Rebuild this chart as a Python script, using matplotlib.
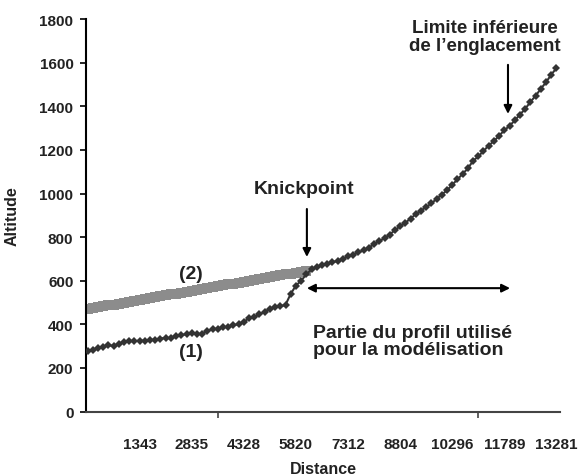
import matplotlib.pyplot as plt

plt.rcParams['font.family'] = ['Liberation Sans', 'DejaVu Sans']
plt.rcParams['font.weight'] = 'bold'

# profil (1): altitude a chaque point du profil
altitude_profil = [
    280, 283, 290, 298, 305, 300, 312, 318, 325, 322,
    326, 324, 330, 328, 335, 338, 336, 345, 350, 356,
    362, 354, 358, 370, 378, 380, 386, 390, 395, 402,
    412, 428, 432, 446, 458, 472, 478, 482, 490, 540,
    578, 600, 630, 652, 664, 670, 678, 684, 692, 700,
    712, 720, 730, 740, 752, 768, 782, 795, 812, 832,
    850, 866, 885, 905, 922, 938, 955, 975, 995, 1015,
    1040, 1065, 1090, 1115, 1150, 1170, 1195, 1220, 1240, 1265,
    1290, 1310, 1335, 1362, 1388, 1420, 1448, 1480, 1510, 1545,
    1575,
]

# profil (2): profil reconstitue jusqu'au knickpoint
altitude_reconst = [
    470, 474, 478, 483, 487, 491, 495, 499, 503, 508,
    512, 516, 520, 524, 528, 533, 537, 541, 545, 549,
    554, 558, 562, 566, 570, 575, 579, 583, 587, 591,
    595, 600, 604, 608, 612, 616, 620, 625, 629, 633,
    637, 641, 645,
]

distance_labels = ['1343', '2835', '4328', '5820', '7312', '8804', '10296', '11789', '13281']
label_pos = [10, 20, 30, 40, 50, 60, 70, 80, 90]
tick_marks = [25, 50, 75]
y_ticks = [0, 200, 400, 600, 800, 1000, 1200, 1400, 1600, 1800]

fig = plt.figure(figsize=(5.81, 4.77), dpi=100)
ax = fig.add_axes([0.148, 0.135, 0.816, 0.823])

ax.plot(range(len(altitude_reconst)), altitude_reconst, color='#8c8c8c', marker='s',
        markersize=7, markeredgewidth=0, linewidth=2, zorder=2)
ax.plot(range(len(altitude_profil)), altitude_profil, color='#333333', marker='D',
        markersize=4.5, markeredgewidth=0, linewidth=1.5, zorder=3)

ax.set_xlim(-0.3, 90.7)
ax.set_ylim(0, 1800)
ax.spines['top'].set_visible(False)
ax.spines['right'].set_visible(False)
ax.spines['left'].set_linewidth(1.5)
ax.spines['bottom'].set_linewidth(1.5)
ax.spines['bottom'].set_color('#444444')

ax.set_yticks(y_ticks)
ax.tick_params(axis='y', labelsize=11, length=4, width=1.2, pad=5, labelcolor='#222222')
ax.set_xticks(label_pos)
ax.set_xticklabels(distance_labels)
ax.tick_params(axis='x', which='major', labelsize=11, length=0, pad=18, labelcolor='#222222')
ax.set_xticks(tick_marks, minor=True)
ax.tick_params(axis='x', which='minor', length=4, width=1.2, color='#444444')

ax.set_ylabel('Altitude', fontsize=11.5, fontweight='bold', color='#222222')
ax.yaxis.set_label_coords(-0.141, 0.5)
ax.set_xlabel('Distance', fontsize=11.5, fontweight='bold', color='#222222')
ax.xaxis.set_label_coords(0.5, -0.125)

txt = '#222222'
ax.text(19.9, 631, '(2)', fontsize=14, ha='center', va='center', color=txt)
ax.text(19.9, 277, '(1)', fontsize=14, ha='center', va='center', color=txt)
ax.text(41.6, 1021, 'Knickpoint', fontsize=14, ha='center', va='center', color=txt)
ax.text(76.3, 1719, 'Limite inférieure\nde l\u2019englacement', fontsize=13.5,
        ha='center', va='center', linespacing=1.05, color=txt)
ax.text(43.3, 326, 'Partie du profil utilisé\npour la modélisation', fontsize=14,
        ha='left', va='center', linespacing=1.0, color=txt)

arrow = dict(arrowstyle='-|>', lw=1.5, color='black', mutation_scale=12, shrinkA=0, shrinkB=0)
ax.annotate('', xy=(42.1, 709), xytext=(42.1, 929), arrowprops=arrow)
ax.annotate('', xy=(80.7, 1365), xytext=(80.7, 1590), arrowprops=arrow)
ax.annotate('', xy=(81.1, 566), xytext=(42.1, 566),
            arrowprops=dict(arrowstyle='<|-|>', lw=1.5, color='black', mutation_scale=12,
                            shrinkA=0, shrinkB=0))

plt.savefig('out.png')
